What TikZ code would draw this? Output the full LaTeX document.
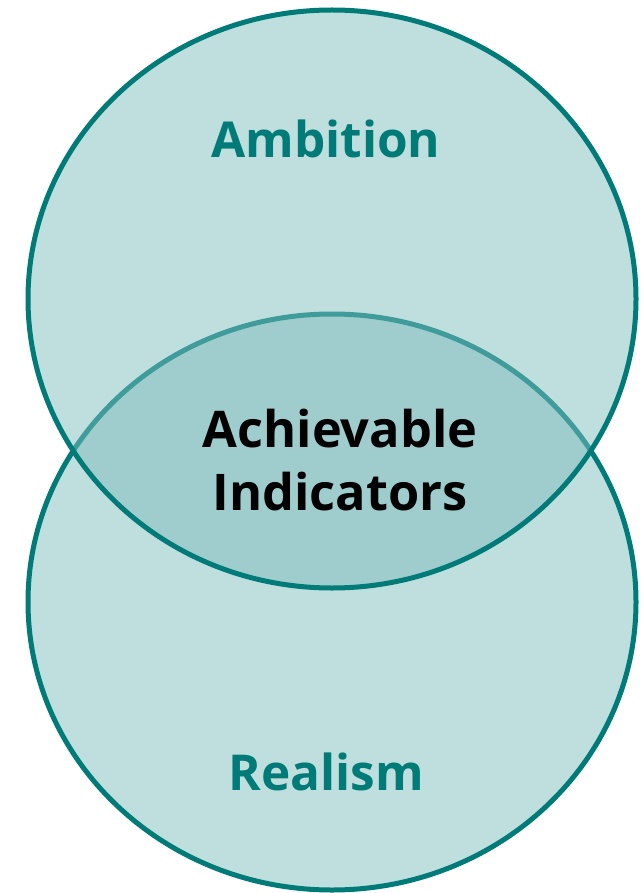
\documentclass[tikz,border=0pt]{standalone}
\usepackage{fontspec}
\setmainfont{Open Sans}
\definecolor{teal1}{HTML}{007B77}
\definecolor{tealfill}{HTML}{7FBDBD}
\begin{document}
\begin{tikzpicture}[x=1pt,y=-1pt,
  setshape/.style={draw=teal1,line width=5pt,fill=tealfill,fill opacity=0.5,draw opacity=1},
  setlabel/.style={font=\fontsize{49.5}{58}\selectfont\bfseries,text=teal1,anchor=base,inner sep=0pt},
  midlabel/.style={font=\fontsize{50.5}{63}\selectfont\bfseries,text=black,align=center,inner sep=0pt}]
\useasboundingbox (0,0) rectangle (644,893);
\path[setshape] (332,602) ellipse [x radius=304, y radius=288];
\path[setshape] (332,299) ellipse [x radius=304, y radius=289];
\node[setlabel] (amb) at (326,158) {Ambition};
\node[setlabel] (real) at (326,790) {Realism};
\node[midlabel,anchor=base] (ach) at (340,447) {Achievable};
\node[midlabel,anchor=base] (ind) at (340,510) {Indicators};
\end{tikzpicture}
\end{document}
